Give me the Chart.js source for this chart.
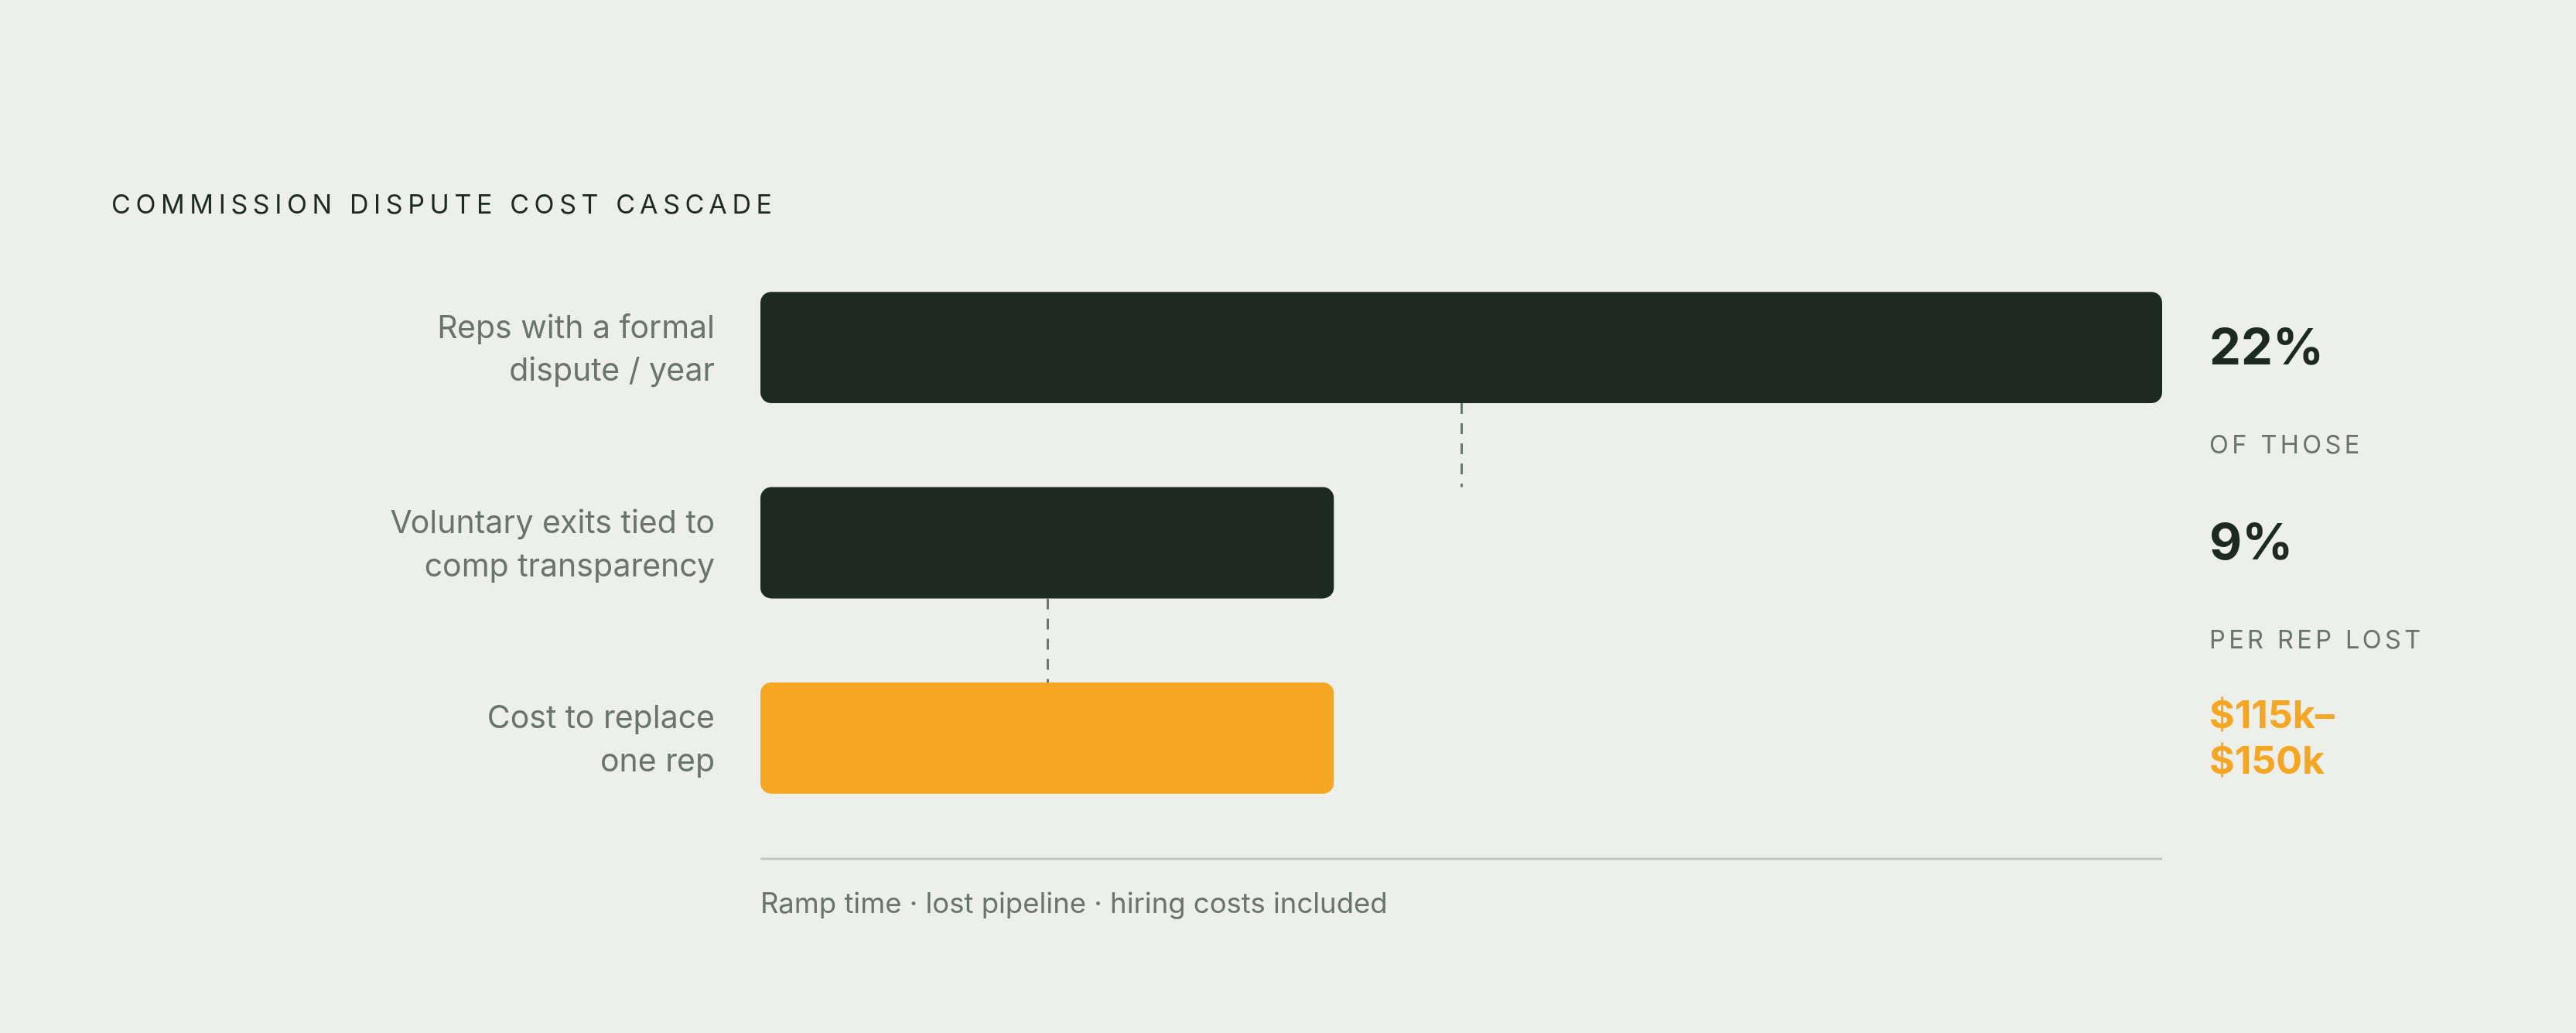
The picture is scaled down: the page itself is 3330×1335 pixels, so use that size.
<!DOCTYPE html>
<html>
<head>
<meta charset="utf-8">
<title>Commission dispute cost cascade</title>
<script src="https://cdn.jsdelivr.net/npm/chart.js@4.4.1/dist/chart.umd.min.js"></script>
<style>
  html, body { margin: 0; padding: 0; background: #edefea; overflow: hidden; }
  #cascade { display: block; }
</style>
</head>
<body>
<canvas id="cascade" width="3330" height="1335"></canvas>
<script>
// chart data
const chartTitle = 'COMMISSION DISPUTE COST CASCADE';
const categories = [
  ['Reps with a formal', 'dispute / year'],
  ['Voluntary exits tied to', 'comp transparency'],
  ['Cost to replace', 'one rep']
];
const barValues = [22, 9, 9];
const valueLabels = [['22%'], ['9%'], ['$115k–', '$150k']];
const stepLabels = ['OF THOSE', 'PER REP LOST'];
const footnote = 'Ramp time · lost pipeline · hiring costs included';

const DARK = '#1c2a21';
const ORANGE = '#f5a623';
const GREY = '#69756b';
const barColors = [DARK, DARK, ORANGE];
const valueColors = [DARK, DARK, ORANGE];

// title, connectors, baseline, right hand values, footnote
const cascadeDecor = {
  id: 'cascadeDecor',
  afterDraw(chart) {
    const ctx = chart.ctx;
    const xs = chart.scales.x, ys = chart.scales.y;
    const meta = chart.getDatasetMeta(0);
    const area = chart.chartArea;
    ctx.save();

    // title
    ctx.fillStyle = DARK;
    ctx.font = '400 34px Inter, "DejaVu Sans", sans-serif';
    ctx.letterSpacing = '6.6px';
    ctx.textAlign = 'left';
    ctx.textBaseline = 'middle';
    ctx.fillText(chartTitle, 144, 266);
    ctx.letterSpacing = '0px';

    // dashed connectors between bars
    ctx.strokeStyle = '#6b776d';
    ctx.lineWidth = 3;
    ctx.setLineDash([14, 12]);
    for (let i = 0; i < meta.data.length - 1; i++) {
      const a = meta.data[i], b = meta.data[i + 1];
      const cx = Math.round(xs.getPixelForValue(barValues[i] / 2)) + 0.5;
      ctx.beginPath();
      ctx.moveTo(cx, a.y + a.height / 2);
      ctx.lineTo(cx, b.y - b.height / 2);
      ctx.stroke();
    }
    ctx.setLineDash([]);

    // baseline
    const baseY = area.bottom + 30;
    ctx.strokeStyle = '#c4c7c1';
    ctx.lineWidth = 3;
    ctx.beginPath();
    ctx.moveTo(area.left, baseY);
    ctx.lineTo(area.right, baseY);
    ctx.stroke();

    // footnote
    ctx.fillStyle = GREY;
    ctx.font = '400 36.5px Inter, "DejaVu Sans", sans-serif';
    ctx.fillText(footnote, area.left, baseY + 59);

    // values on the right
    const vx = area.right + 61;
    valueLabels.forEach((lines, i) => {
      const cy = ys.getPixelForValue(i);
      const big = lines.length === 1;
      const lh = 59;
      ctx.fillStyle = valueColors[i];
      ctx.font = big ? '700 65px Inter, sans-serif' : '700 50px Inter, sans-serif';
      lines.forEach((t, k) => {
        ctx.fillText(t, vx, cy + (k - (lines.length - 1) / 2) * lh + 2);
      });
    });

    // step labels between rows
    ctx.fillStyle = GREY;
    ctx.font = '400 32.5px Inter, sans-serif';
    ctx.letterSpacing = '4.4px';
    stepLabels.forEach((t, i) => {
      const cy = (ys.getPixelForValue(i) + ys.getPixelForValue(i + 1)) / 2;
      ctx.fillText(t, vx, cy + 1);
    });
    ctx.restore();
  }
};

new Chart(document.getElementById('cascade'), {
  type: 'bar',
  data: {
    labels: categories,
    datasets: [{
      data: barValues,
      backgroundColor: barColors,
      borderRadius: 14,
      borderSkipped: false,
      categoryPercentage: 1,
      barPercentage: 0.57
    }]
  },
  options: {
    indexAxis: 'y',
    responsive: false,
    devicePixelRatio: 1,
    animation: false,
    layout: { padding: { top: 323, bottom: 255, right: 535, left: 0 } },
    plugins: { legend: { display: false }, tooltip: { enabled: false } },
    scales: {
      x: { display: false, min: 0, max: 22 },
      y: {
        grid: { display: false, drawTicks: false },
        border: { display: false },
        afterFit(scale) { scale.width = 983; },
        ticks: {
          color: GREY,
          padding: 59,
          labelOffset: 3,
          font: { family: 'Inter, sans-serif', size: 41, lineHeight: 1.36 }
        }
      }
    }
  },
  plugins: [cascadeDecor]
});
</script>
</body>
</html>
